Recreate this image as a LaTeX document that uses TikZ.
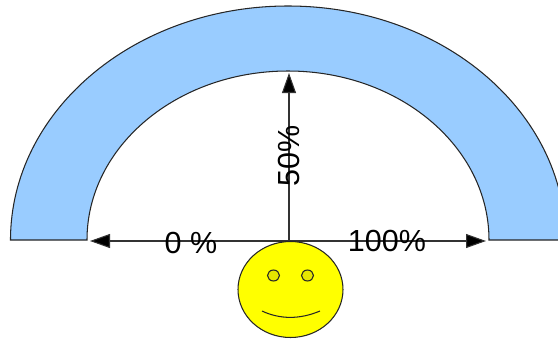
\documentclass[tikz,border=0pt]{standalone}
\usepackage{fontspec}
\setmainfont{Liberation Sans}
\usetikzlibrary{arrows.meta}
\definecolor{bandblue}{HTML}{99CCFF}
\definecolor{eyeyellow}{HTML}{E6E600}
\definecolor{faceyellow}{HTML}{FFFF00}
\begin{document}
\begin{tikzpicture}[x=1pt,y=-1pt,
  outline/.style={draw=black!85,line width=1.05pt},
  measure/.style={draw=black!80,line width=1.05pt,-{Triangle[length=20pt,width=14pt,fill=black]}},
  lab/.style={font=\fontsize{30.5}{30.5}\selectfont,text=black,inner sep=0pt}]
\path[use as bounding box] (0,0) rectangle (558,341);
\clip (0,0) rectangle (558,341);
% band
\path[outline,fill=bandblue]
  (10.5,240) arc[start angle=180,end angle=0,x radius=277.5,y radius=-234]
  -- (489,240) arc[start angle=0,end angle=180,x radius=201,y radius=-169] -- cycle;
% connectors
\coordinate (hub) at (289,241);
\coordinate (leftend) at (90,241);
\coordinate (rightend) at (486,241);
\coordinate (topend) at (289,73);
\draw[measure] (hub) -- (leftend);
\draw[measure] (hub) -- (rightend);
\draw[measure] (hub) -- (topend);
% labels
\node[lab] (zero) at (191,243) {0 \%};
\node[lab] (hundred) at (387,241) {100\%};
\node[lab,rotate=90] (fifty) at (289,156) {50\%};
% face
\path[outline,fill=faceyellow] (290.5,289.5) ellipse[x radius=52.5,y radius=48];
\path[outline,fill=eyeyellow] (273.5,275.5) ellipse[x radius=6,y radius=5.5];
\path[outline,fill=eyeyellow] (307.5,275.5) ellipse[x radius=6,y radius=5.5];
\draw[outline] (262,311) .. controls (280,319.5) and (300,319.5) .. (320,311);
\end{tikzpicture}
\end{document}
